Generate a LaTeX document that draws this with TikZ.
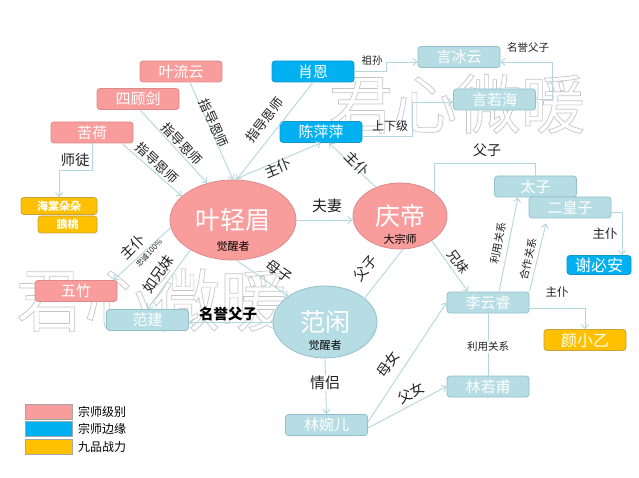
\documentclass[tikz,border=0pt]{standalone}
\usepackage{fontspec}
\setmainfont{Noto Sans CJK SC}
\usetikzlibrary{arrows.meta,calc,shapes.geometric}
\definecolor{pinkF}{HTML}{F89C9C}
\definecolor{pinkD}{HTML}{DD8A8C}
\definecolor{blueF}{HTML}{00B0F0}
\definecolor{blueD}{HTML}{0E98CC}
\definecolor{orangeF}{HTML}{FFC000}
\definecolor{orangeD}{HTML}{C9A23A}
\definecolor{tealF}{HTML}{B7DDE4}
\definecolor{tealD}{HTML}{92BFC8}
\definecolor{connc}{HTML}{B4D6DE}
\definecolor{labc}{HTML}{222222}
\newcommand{\fsz}[1]{\fontsize{#1}{#1}\selectfont}
\begin{document}
\begin{tikzpicture}[x=1pt,y=-1pt,
  rbox/.style={rectangle, rounded corners=3pt, minimum width=82pt, minimum height=21pt, inner sep=0pt, text=white, font=\fsz{15}, line width=0.8pt},
  pinkbox/.style={rbox, fill=pinkF, draw=pinkD},
  bluebox/.style={rbox, fill=blueF, draw=blueD},
  orangebox/.style={rbox, fill=orangeF, draw=orangeD},
  tealbox/.style={rbox, fill=tealF, draw=tealD},
  ell/.style={ellipse, inner sep=0pt, line width=0.8pt, text=white, font=\fsz{25}},
  subt/.style={inner sep=0pt, text=black, font=\fsz{11}},
  conn/.style={draw=connc, line width=0.9pt},
  arr/.style={conn, -{Straight Barb[length=4pt,width=7pt]}},
  lab/.style={inner sep=0.5pt, text=labc, font=\fsz{13}},
  slab/.style={inner sep=0.5pt, text=labc, font=\fsz{10.5}},
  wlab/.style={inner sep=1pt, fill=white, text=labc},
  wm/.style={inner sep=0pt, text=gray!45},
  legbox/.style={rectangle, minimum width=47pt, minimum height=15pt, inner sep=0pt, draw=gray!70, line width=0.6pt},
  legtxt/.style={anchor=west, inner sep=0pt, text=black, font=\fsz{12}}
]
\useasboundingbox (0,0) rectangle (639,478);
\fill[white] (0,0) rectangle (639,478);

% watermark
\node[wm, font=\fsz{64}] (wm1) at (457,104) {\special{pdf:literal 1 Tr 0.7 w}君心微暖\special{pdf:literal 0 Tr}};
\node[wm, font=\fsz{68}] (wm2) at (152,300) {\special{pdf:literal 1 Tr 0.7 w}君心微暖\special{pdf:literal 0 Tr}};

% nodes
\node[pinkbox] (ylyu) at (181,71.5) {叶流云};
\node[pinkbox] (sgj) at (138,99) {四顾剑};
\node[pinkbox] (kh) at (92,132.5) {苦荷};
\node[orangebox, minimum width=76pt, minimum height=17pt, font=\fsz{11}\bfseries] (htdd) at (59,206) {海棠朵朵};
\node[orangebox, minimum width=59pt, minimum height=17pt, font=\fsz{11}\bfseries] (lt) at (67.5,224.5) {狼桃};
\node[bluebox] (xe) at (313,71.5) {肖恩};
\node[bluebox] (cpp) at (321,132) {陈萍萍};
\node[tealbox] (ybyun) at (459,57) {言冰云};
\node[tealbox] (yrh) at (494.5,99.5) {言若海};
\node[tealbox] (tz) at (535.5,186.5) {太子};
\node[tealbox] (ehz) at (570,207.5) {二皇子};
\node[bluebox, minimum width=64pt, minimum height=19pt, font=\fsz{16}] (xba) at (599,265) {谢必安};
\node[tealbox] (lyr) at (488,302.5) {李云睿};
\node[orangebox, font=\fsz{16}] (yxy) at (585,340) {颜小乙};
\node[tealbox] (lrf) at (488,386.5) {林若甫};
\node[tealbox] (lwe) at (326.5,425) {林婉儿};
\node[pinkbox] (wz) at (76,291) {五竹};
\node[tealbox] (fj) at (147.5,320) {范建};

\node[ell, fill=pinkF, draw=pinkD, minimum width=126pt, minimum height=80pt] (yqm) at (233,220) {叶轻眉};
\node[ell, fill=pinkF, draw=pinkD, minimum width=94pt, minimum height=66pt] (qd) at (400,216) {庆帝};
\node[ell, fill=tealF, draw=tealD, minimum width=104pt, minimum height=72pt] (fx) at (325,322) {范闲};
\node[subt] (yqms) at (233,246) {觉醒者};
\node[subt] (qds) at (400,239) {大宗师};
\node[subt] (fxs) at (325,345) {觉醒者};

% connectors
\draw[arr] ($(ylyu.south)+(9,0)$) -- (yqm.north);
\draw[arr] ($(sgj.south)+(2,0)$) -- (yqm.125);
\draw[arr] ($(kh.south)+(30,0)$) -- (yqm.155);
\draw[arr] (xe.south) -- (yqm.85);
\draw[arr] (yqm.88) -- (cpp.south);
\draw[arr] (qd.130) -- ($(cpp.south)+(8,0)$);
\draw[arr] (xe.east) -- (386,71.5) |- ($(ybyun.west)+(0,5)$);
\draw[arr] ($(cpp.east)+(0,4)$) -- (412,136) |- ($(yrh.west)+(0,2.5)$);
\draw[arr] (yrh.east) -- (552,99.5) |- ($(ybyun.east)+(0,5)$);
\draw[conn] ($(qd.center)+(34,-23)$) |- ($(tz.north)+(0,-12)$) -- (tz.north);
\draw[arr] (yqm.east) -- (yqm.east -| qd.west);
\draw[arr] (yqm.-85) -- (fx.145);
\draw[conn] (fx.31) -- (qd.-85);
\draw[arr] (qd.-38) -- ($(lyr.north)+(-20,0)$);
\draw[arr] ($(lyr.north)+(11,0)$) -- ($(tz.south)+(-17.5,0)$);
\draw[arr] (lyr.north east) -- ($(ehz.south)+(-24,5)$);
\draw[arr] ($(ehz.east)+(0,4.5)$) -| ($(xba.north)+(23,0)$);
\draw[arr] ($(lyr.east)+(0,5.5)$) -| (yxy.north);
\draw[conn] (lyr.south) -- (lrf.north);
\draw[arr] (fx.south) -- (lwe.north);
\draw[arr] ($(lwe.east)+(0,-3)$) -- (lyr.west);
\draw[arr] ($(lwe.east)+(0,3)$) -- (lrf.west);
\draw[arr] (yqm.187) -- ($(wz.north east)+(-4,0)$);
\draw[arr] (yqm.215) -- (fj.north);
\draw[arr] (fx.west) -- (fx.west -| fj.east);
\draw[arr] (kh.south) -- ($(kh.south)+(0,27)$) -| (htdd.north);

% labels
\node[lab, rotate=-66] (l1) at (214,123) {指导恩师};
\node[lab, rotate=-47] (l2) at (182,144) {指导恩师};
\node[lab, rotate=-43] (l3) at (157,163) {指导恩师};
\node[lab, rotate=52] (l4) at (265,120) {指导恩师};
\node[lab, font=\fsz{14}, rotate=22] (l5) at (278,168) {主仆};
\node[lab, font=\fsz{14}, rotate=-45] (l6) at (357,164) {主仆};
\node[slab] (l7) at (372,61) {祖孙};
\node[lab, font=\fsz{12}] (l8) at (390,126) {上下级};
\node[slab] (l9) at (528,48) {名誉父子};
\node[lab, font=\fsz{14}] (l10) at (487,150) {父子};
\node[lab, font=\fsz{15}] (l11) at (327,206) {夫妻};
\node[lab, font=\fsz{14}, rotate=-35] (l12) at (279,271) {母子};
\node[lab, font=\fsz{14}, rotate=50] (l13) at (365,268) {父子};
\node[lab, font=\fsz{13}, rotate=-53] (l14) at (458,262) {兄妹};
\node[slab, rotate=79] (l15) at (498,243) {利用关系};
\node[slab, rotate=77] (l16) at (528,259) {合作关系};
\node[lab, font=\fsz{12.5}] (l17) at (605,234) {主仆};
\node[lab, font=\fsz{11.5}] (l18) at (557,292) {主仆};
\node[slab, wlab, font=\fsz{10.5}] (l19) at (488,347) {利用关系};
\node[lab, wlab, font=\fsz{15}] (l20) at (325,383) {情侣};
\node[lab, font=\fsz{14}, rotate=56] (l21) at (388,364) {母女};
\node[lab, font=\fsz{14}, rotate=28] (l22) at (411,393) {父女};
\node[lab, font=\fsz{14}, rotate=45] (l23) at (133,247) {主仆};
\node[lab, font=\fsz{7.5}, rotate=47] (l24) at (149,253) {忠诚100\%};
\node[lab, font=\fsz{14}, rotate=55] (l25) at (158,274) {如兄妹};
\node[lab, font=\fsz{14.5}\bfseries, text=black] (l26) at (228,314) {名誉父子};
\node[lab, wlab, font=\fsz{14.5}] (l27) at (75,160) {师徒};

% legend
\node[legbox, fill=pinkF] (lg1) at (48.5,411.5) {};
\node[legbox, fill=blueF] (lg2) at (48.5,428.5) {};
\node[legbox, fill=orangeF] (lg3) at (48.5,446.5) {};
\node[legtxt] (lt1) at (78,411.5) {宗师级别};
\node[legtxt] (lt2) at (78,428.5) {宗师边缘};
\node[legtxt] (lt3) at (78,446.5) {九品战力};
\end{tikzpicture}
\end{document}
